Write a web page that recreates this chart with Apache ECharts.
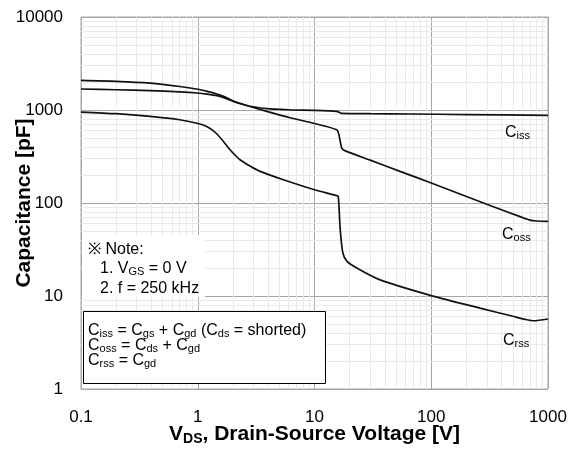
<!DOCTYPE html>
<html>
<head>
<meta charset="utf-8">
<script src="https://cdn.jsdelivr.net/npm/echarts@6/dist/echarts.min.js"></script>
<style>
  html, body { margin: 0; padding: 0; background: #fff; }
  #chart { width: 585px; height: 455px; }
</style>
</head>
<body>
<div id="chart"></div>
<script>
// Axis ticks (decades)
const xTicks = [0.1, 1, 10, 100, 1000];
const yTicks = [1, 10, 100, 1000, 10000];

// Ciss: drain-source voltage [V] and capacitance [pF]
const cissV = [0.1, 0.2, 0.39, 0.7, 1.0, 1.2, 1.46, 1.7, 2.02, 2.4, 2.8, 3.9, 6.2, 10, 15.5, 16.3, 17.1, 30, 66, 200, 1000];
const cissC = [1682, 1652, 1614, 1570, 1523, 1482, 1425, 1350, 1235, 1155, 1098, 1033, 1005, 990, 966, 945, 919, 912, 906, 893, 875];

// Coss
const cossV = [0.1, 0.2, 0.39, 0.7, 1.0, 1.2, 1.46, 1.7, 2.02, 2.4, 2.8, 3.9, 6.18, 10, 15.5, 16.3, 17.1, 18, 30, 54, 100, 280, 600, 700, 800, 1000];
const cossC = [2080, 2035, 1945, 1790, 1670, 1585, 1486, 1385, 1250, 1160, 1090, 966, 825, 715, 612, 520, 390, 368, 289, 219, 164, 100, 70, 65.5, 64, 63.4];

// Crss
const crssV = [0.1, 0.2, 0.39, 0.7, 1.0, 1.19, 1.32, 1.46, 1.66, 1.89, 2.1, 2.3, 2.8, 3.42, 5.42, 10, 15.5, 16.0, 16.6, 17.5, 19, 23, 36, 100, 262, 500, 659, 752, 1000];
const crssC = [951, 912, 853, 785, 715, 666, 615, 552, 459, 374, 325, 292, 250, 219, 178, 139, 120, 117, 52, 29, 23.6, 20, 15, 10.1, 7.4, 6.05, 5.56, 5.42, 5.66];

const FONT = 'Arial, "Liberation Sans", sans-serif';

function pairs(xs, ys) { return xs.map((x, i) => [x, ys[i]]); }

// minor log grid positions (2..9 within every decade)
function minorValues(ticks) {
  const out = [];
  for (let i = 0; i < ticks.length - 1; i++) {
    for (let k = 2; k <= 9; k++) out.push(+(ticks[i] * k).toPrecision(6));
  }
  return out;
}

function tickText(v) { return String(parseFloat(Number(v).toPrecision(6))); }

const chart = echarts.init(document.getElementById('chart'), null, { renderer: 'canvas' });

const curveStyle = { color: '#111', width: 1.7 };

const main = { fontSize: 16, fontFamily: FONT, color: '#000', lineHeight: 16 };
const sub = { fontSize: 11, fontFamily: FONT, color: '#000', lineHeight: 13, verticalAlign: 'bottom' };

function richText(left, top, text) {
  return {
    type: 'text', left: left, top: top, z: 20,
    style: { text: text, rich: { m: main, s: sub }, font: '16px ' + FONT, fill: '#000' }
  };
}

const option = {
  animation: false,
  backgroundColor: '#fff',
  grid: {
    left: 81, top: 17, right: 37, bottom: 66, outerBoundsMode: 'none', containLabel: false,
    show: true, borderColor: '#a6a6a6', borderWidth: 1, backgroundColor: 'transparent'
  },
  xAxis: {
    type: 'log', logBase: 10, min: xTicks[0], max: xTicks[xTicks.length - 1], splitNumber: 4,
    axisLine: { show: false }, axisTick: { show: false },
    splitLine: { show: true, lineStyle: { color: '#a6a6a6', width: 1 } },
    axisLabel: { formatter: tickText, fontSize: 17, fontFamily: FONT, color: '#000', margin: 20 },
    name: '{b|V}{s|DS}{b|, Drain-Source Voltage [V]}',
    nameLocation: 'middle', nameGap: 33, nameMoveOverlap: false,
    nameTextStyle: {
      rich: {
        b: { fontSize: 21, fontWeight: 'bold', fontFamily: FONT, color: '#000', lineHeight: 24 },
        s: { fontSize: 14, fontWeight: 'bold', fontFamily: FONT, color: '#000', lineHeight: 14, verticalAlign: 'bottom' }
      }
    }
  },
  yAxis: {
    type: 'log', logBase: 10, min: yTicks[0], max: yTicks[yTicks.length - 1], splitNumber: 4,
    axisLine: { show: false }, axisTick: { show: false },
    splitLine: { show: true, lineStyle: { color: '#a6a6a6', width: 1 } },
    axisLabel: { formatter: tickText, fontSize: 17, fontFamily: FONT, color: '#000', margin: 18 },
    name: 'Capacitance [pF]', nameLocation: 'middle', nameGap: 46, nameMoveOverlap: false,
    nameTextStyle: { fontSize: 21, fontWeight: 'bold', fontFamily: FONT, color: '#000' }
  },
  series: [
    {
      name: 'minor-grid', type: 'line', data: [], silent: true, z: 1,
      markLine: {
        silent: true, symbol: ['none', 'none'], animation: false,
        label: { show: false },
        lineStyle: { type: 'solid', color: '#e9e9e9', width: 1 },
        emphasis: { disabled: true },
        data: minorValues(xTicks).map(v => ({ xAxis: v }))
          .concat(minorValues(yTicks).map(v => ({ yAxis: v })))
      }
    },
    { name: 'Ciss', type: 'line', data: pairs(cissV, cissC), showSymbol: false, smooth: 0.25, lineStyle: curveStyle, z: 5 },
    { name: 'Coss', type: 'line', data: pairs(cossV, cossC), showSymbol: false, smooth: 0.25, lineStyle: curveStyle, z: 5 },
    { name: 'Crss', type: 'line', data: pairs(crssV, crssC), showSymbol: false, smooth: 0.25, lineStyle: curveStyle, z: 5 }
  ],
  graphic: [
    // measurement-condition note on a white patch
    { type: 'rect', left: 82, top: 235, z: 15, shape: { width: 123, height: 62 }, style: { fill: '#fff' } },
    richText(88, 242, '{m|※ Note:}'),
    richText(100, 261, '{m|1. V}{s|GS}{m| = 0 V}'),
    richText(100, 281, '{m|2. f = 250 kHz}'),
    // capacitance definitions box
    { type: 'rect', left: 83, top: 311, z: 15, shape: { x: 0.5, y: 0.5, width: 242, height: 72 }, style: { fill: '#fff', stroke: '#000', lineWidth: 1 } },
    richText(88, 323, '{m|C}{s|iss}{m| = C}{s|gs}{m| + C}{s|gd}{m| (C}{s|ds}{m| = shorted)}'),
    richText(88, 338, '{m|C}{s|oss}{m| = C}{s|ds}{m| + C}{s|gd}'),
    richText(88, 353, '{m|C}{s|rss}{m| = C}{s|gd}'),
    // curve names
    richText(505, 125, '{m|C}{s|iss}'),
    richText(502, 227, '{m|C}{s|oss}'),
    richText(503, 333, '{m|C}{s|rss}')
  ]
};

chart.setOption(option);
</script>
</body>
</html>
